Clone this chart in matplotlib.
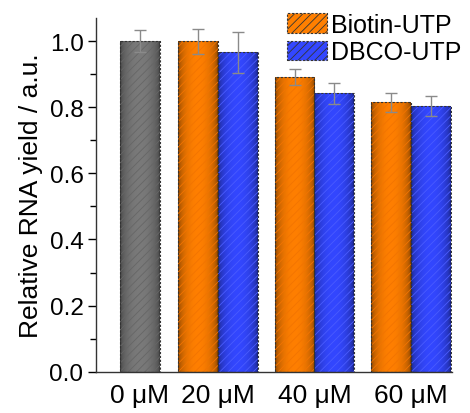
import numpy as np
import matplotlib
matplotlib.use("Agg")
import matplotlib.pyplot as plt
from matplotlib.colors import to_rgb
from matplotlib.patches import Rectangle

plt.rcParams['font.family'] = ['Liberation Sans', 'DejaVu Sans']
plt.rcParams['hatch.linewidth'] = 0.6

# data
concentrations = ['0 μM', '20 μM', '40 μM', '60 μM']
control_value = 1.0
control_err = 0.033
biotin = [1.00, 0.891, 0.815]
biotin_err = [0.038, 0.025, 0.028]
dbco = [0.967, 0.842, 0.805]
dbco_err = [0.062, 0.032, 0.030]

gray = '#7a7a7a'
orange = '#ff7f00'
blue = '#3347ff'

fig = plt.figure(figsize=(4.7, 4.14), dpi=100)
ax = fig.add_axes([96 / 470, 41.3 / 414, (452 - 96) / 470, (395 - 41.3) / 414])

w = 0.41
group_x = np.array([1, 2, 3])
ctrl_x = 0.19


def shaded_bars(xs, heights, color, hatch_color):
    bars = ax.bar(xs, heights, w, color='none', edgecolor='none', zorder=1)
    rgb = np.array(to_rgb(color))
    t = np.linspace(0, 1, 64)
    f = 0.45 + 0.55 * np.sin(np.pi * t) ** 0.4
    grad = np.clip(rgb[None, :] * f[:, None], 0, 1)[None, :, :]
    for b in bars:
        x0, y0 = b.get_x(), b.get_y()
        im = ax.imshow(grad, extent=[x0, x0 + b.get_width(), y0, y0 + b.get_height()],
                       aspect='auto', zorder=1, interpolation='bilinear')
        im.set_clip_path(b)
    ax.bar(xs, heights, w, color='none', edgecolor=hatch_color, hatch='////',
           linewidth=0, zorder=2)
    ax.bar(xs, heights, w, color='none', edgecolor='#333333', linewidth=0.8,
           linestyle=(0, (2, 1.5)), zorder=3)
    return bars


shaded_bars([ctrl_x], [control_value], gray, '#666666')
shaded_bars(group_x - w / 2, biotin, orange, '#f27400')
shaded_bars(group_x + w / 2, dbco, blue, '#4a5cff')

ekw = dict(fmt='none', ecolor='#8a8a8a', elinewidth=1, capsize=4, capthick=1, zorder=4)
ax.errorbar([ctrl_x], [control_value], yerr=[control_err], **ekw)
ax.errorbar(group_x - w / 2, biotin, yerr=biotin_err, **ekw)
ax.errorbar(group_x + w / 2, dbco, yerr=dbco_err, **ekw)

ax.set_xlim(-0.264, 3.425)
ax.set_ylim(0, 1.07)
ax.set_xticks([ctrl_x, *group_x])
ax.set_xticklabels(concentrations, fontsize=19)
ax.tick_params(axis='x', length=0, pad=8)
ax.set_yticks(np.arange(0, 1.01, 0.2))
ax.set_yticks(np.arange(0.1, 1.01, 0.2), minor=True)
ax.set_yticklabels([f'{v:.1f}' for v in np.arange(0, 1.01, 0.2)], fontsize=17.5)
ax.tick_params(axis='y', which='major', length=6, width=1, direction='out', pad=3)
ax.tick_params(axis='y', which='minor', length=4, width=1, direction='out')
ax.spines['top'].set_visible(False)
ax.spines['right'].set_visible(False)
for s in ['left', 'bottom']:
    ax.spines[s].set_linewidth(1)
    ax.spines[s].set_color('#333333')
ax.set_ylabel('Relative RNA yield / a.u.', fontsize=19, labelpad=5)

handles = [Rectangle((0, 0), 1, 1, facecolor=orange, edgecolor='#333333', hatch='////',
                     linestyle=(0, (2, 1.5)), linewidth=0.8),
           Rectangle((0, 0), 1, 1, facecolor=blue, edgecolor='#333333', hatch='////',
                     linestyle=(0, (2, 1.5)), linewidth=0.8)]
ax.legend(handles, ['Biotin-UTP', 'DBCO-UTP'], loc='upper right', frameon=False,
          fontsize=18, handlelength=1.6, handleheight=0.8, handletextpad=0.15,
          labelspacing=0.15, bbox_to_anchor=(1.025, 1.015), borderaxespad=0,
          borderpad=0)

fig.savefig('out.png', dpi=100)
